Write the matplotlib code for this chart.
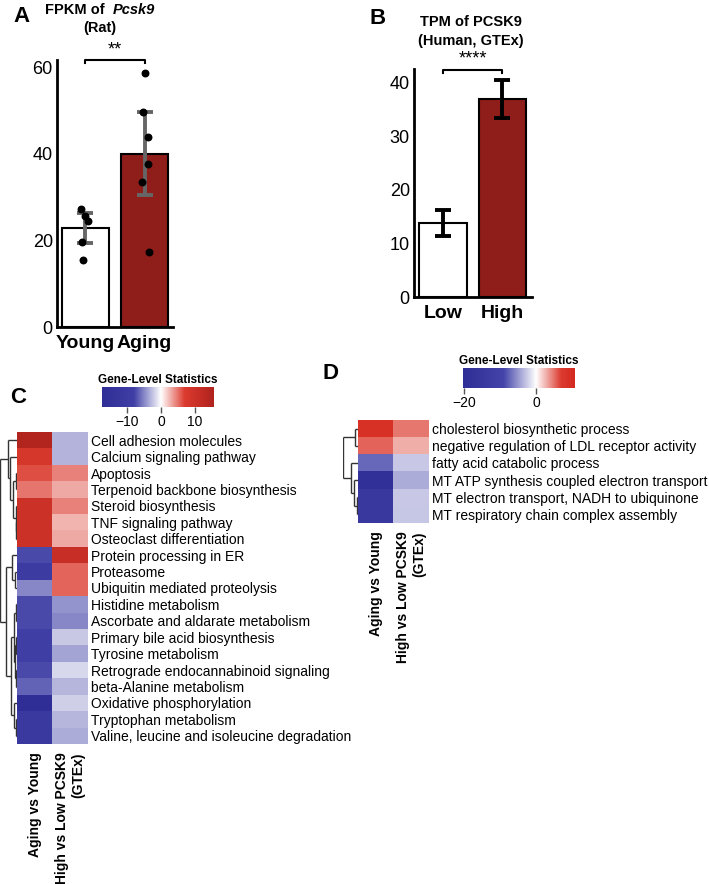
import numpy as np
import matplotlib
matplotlib.use("Agg")
import matplotlib.pyplot as plt
from matplotlib.colors import LinearSegmentedColormap

plt.rcParams['font.family'] = ['Liberation Sans', 'DejaVu Sans']

# ---- data ----
# A: FPKM of Pcsk9 (rat)
a_groups = ["Young", "Aging"]
a_means = [22.8, 40.0]
a_err = [3.5, 9.5]
a_young_pts = [27.2, 25.6, 24.5, 19.6, 15.5]
a_aging_pts = [58.6, 49.6, 43.9, 37.6, 33.5, 17.3]
a_young_jit = [-0.08, 0.0, 0.05, -0.06, -0.04]
a_aging_jit = [0.0, -0.02, 0.05, 0.05, -0.04, 0.08]

# B: TPM of PCSK9 (human GTEx)
b_groups = ["Low", "High"]
b_means = [13.8, 37.0]
b_err = [2.4, 3.6]

# C: KEGG pathways
c_terms = ["Cell adhesion molecules", "Calcium signaling pathway", "Apoptosis",
           "Terpenoid backbone biosynthesis", "Steroid biosynthesis",
           "TNF signaling pathway", "Osteoclast differentiation",
           "Protein processing in ER", "Proteasome", "Ubiquitin mediated proteolysis",
           "Histidine metabolism", "Ascorbate and aldarate metabolism",
           "Primary bile acid biosynthesis", "Tyrosine metabolism",
           "Retrograde endocannabinoid signaling", "beta-Alanine metabolism",
           "Oxidative phosphorylation", "Tryptophan metabolism",
           "Valine, leucine and isoleucine degradation"]
c_aging = [15, 8, 6.3, 4.8, 10, 10, 10, -7.5, -10, -5, -7.5, -7.5, -8, -8,
           -7.5, -6.5, -17, -11, -11]
c_gtex = [-3.2, -3.2, 4.4, 3.0, 4.4, 2.6, 3.0, 11, 5.5, 5.5, -4.5, -5, -2.2,
          -3.8, -1.6, -3.0, -2.0, -3.0, -3.4]
c_tree = [17, [9, 0, [7, 1, [3.7, [1, 2, 3], [1.5, 4, [0.8, 5, 6]]]]],
          [11, [5, 7, [2, 8, 9]],
           [6, [3, [1, 10, 11], [2, [1, 12, 13], [1, 14, 15]]], [3, 16, [1, 17, 18]]]]]

# D: GO terms
d_terms = ["cholesterol biosynthetic process",
           "negative regulation of LDL receptor activity",
           "fatty acid catabolic process",
           "MT ATP synthesis coupled electron transport",
           "MT electron transport, NADH to ubiquinone",
           "MT respiratory chain complex assembly"]
d_aging = [9, 5.5, -7.2, -19, -15, -15]
d_gtex = [4.8, 2.8, -2.6, -4, -2.6, -2.8]
d_tree = [15, [3, 0, 1], [7, 2, [4, 3, [1, 4, 5]]]]

col_labels = ["Aging vs Young", "High vs Low PCSK9\n(GTEx)"]

W, H = 709, 884
fig = plt.figure(figsize=(W / 100, H / 100), dpi=100)


def px(x0, y0, x1, y1):
    return [x0 / W, 1 - y1 / H, (x1 - x0) / W, (y1 - y0) / H]


def ftext(x, y, s, **kw):
    fig.text(x / W, 1 - y / H, s, **kw)


def make_cmap(vmin, vmax, nodes):
    pos = [(v - vmin) / (vmax - vmin) for v, c in nodes]
    return LinearSegmentedColormap.from_list("gls", list(zip(pos, [c for v, c in nodes])))


def bar_axes(ax):
    for s in ["top", "right"]:
        ax.spines[s].set_visible(False)
    for s in ["left", "bottom"]:
        ax.spines[s].set_linewidth(2)
    ax.tick_params(axis="y", length=0, labelsize=13, pad=3)
    ax.tick_params(axis="x", length=0, labelsize=14, pad=6)
    for lab in ax.get_xticklabels():
        lab.set_fontweight("bold")


# ---- A ----
axA = fig.add_axes(px(57, 60.5, 173, 327))
axA.bar([0, 1], a_means, width=0.8, color=["white", "#8f1d1a"],
        edgecolor="black", linewidth=1.5, zorder=2)
axA.errorbar([0, 1], a_means, yerr=a_err, fmt="none", ecolor="#666666",
             elinewidth=2.8, capsize=5.5, capthick=2.8, zorder=3)
axA.scatter(np.array(a_young_jit), a_young_pts, s=22, color="black", zorder=4)
axA.scatter(1 + np.array(a_aging_jit), a_aging_pts, s=22, color="black", zorder=4)
axA.set_xlim(-0.48, 1.48)
axA.set_ylim(0, 61.5)
axA.set_yticks([0, 20, 40, 60])
axA.set_xticks([0, 1])
axA.set_xticklabels(a_groups)
bar_axes(axA)
axA.plot([0, 0, 1, 1], [61.0, 61.6, 61.6, 61.0], color="black", lw=1.5, clip_on=False)
axA.text(0.5, 62.0, "**", ha="center", va="bottom", fontsize=13)
ftext(45, 10, "FPKM of ", ha="left", va="center", fontsize=10.5, fontweight="bold")
ftext(155, 10, "Pcsk9", ha="right", va="center", fontsize=10.5, fontweight="bold",
      style="italic")
ftext(100, 28, "(Rat)", ha="center", va="center", fontsize=10.5, fontweight="bold")
ftext(22, 16, "A", ha="center", va="center", fontsize=16, fontweight="bold")

# ---- B ----
axB = fig.add_axes(px(414, 69, 532, 297))
axB.bar([0, 1], b_means, width=0.8, color=["white", "#8f1d1a"],
        edgecolor="black", linewidth=1.5, zorder=2)
axB.errorbar([0, 1], b_means, yerr=b_err, fmt="none", ecolor="black",
             elinewidth=2.8, capsize=5.5, capthick=2.8, zorder=3)
axB.set_xlim(-0.487, 1.496)
axB.set_ylim(0, 42.6)
axB.set_yticks([0, 10, 20, 30, 40])
axB.set_xticks([0, 1])
axB.set_xticklabels(b_groups)
bar_axes(axB)
axB.plot([0, 0, 1, 1], [41.9, 42.5, 42.5, 41.9], color="black", lw=1.5, clip_on=False)
axB.text(0.5, 42.8, "****", ha="center", va="bottom", fontsize=13)
ftext(471, 22, "TPM of PCSK9", ha="center", va="center", fontsize=10.5, fontweight="bold")
ftext(471, 41, "(Human, GTEx)", ha="center", va="center", fontsize=10.5, fontweight="bold")
ftext(378, 18, "B", ha="center", va="center", fontsize=16, fontweight="bold")


# ---- heatmaps ----
def draw_tree(ax, node, col):
    # returns (y position, height) of node
    if not isinstance(node, list):
        return node + 0.5, 0
    h, left, right = node
    yl, hl = draw_tree(ax, left, col)
    yr, hr = draw_tree(ax, right, col)
    ax.plot([hl, h], [yl, yl], color=col, lw=1.0, solid_capstyle="butt")
    ax.plot([hr, h], [yr, yr], color=col, lw=1.0, solid_capstyle="butt")
    ax.plot([h, h], [yl, yr], color=col, lw=1.0, solid_capstyle="butt")
    return (yl + yr) / 2, h


def heatmap(box, tree_x0, terms, vals1, vals2, tree, cmap, vmin, vmax):
    x0, y0, x1, y1 = box
    ax = fig.add_axes(px(x0, y0, x1, y1))
    mat = np.column_stack([vals1, vals2])
    ax.imshow(mat, cmap=cmap, vmin=vmin, vmax=vmax, aspect="auto",
              interpolation="nearest", extent=(0, 2, len(terms), 0))
    for s in ax.spines.values():
        s.set_visible(False)
    ax.set_yticks(np.arange(len(terms)) + 0.5)
    ax.set_yticklabels(terms, fontsize=10)
    ax.yaxis.tick_right()
    ax.set_xticks([0.5, 1.5])
    ax.set_xticklabels(col_labels, rotation=90, fontsize=10, fontweight="bold",
                       multialignment="right", va="top", ha="center")
    ax.tick_params(length=0, pad=2)
    ax.tick_params(axis="x", pad=6)
    axd = fig.add_axes(px(tree_x0, y0, x0, y1))
    draw_tree(axd, tree, "#333333")
    axd.set_xlim(tree[0], 0)
    axd.set_ylim(len(terms), 0)
    axd.axis("off")


def colorbar(box, cmap, vmin, vmax, ticks):
    x0, y0, x1, y1 = box
    ax = fig.add_axes(px(x0, y0, x1, y1))
    grad = np.linspace(vmin, vmax, 256)[None, :]
    ax.imshow(grad, cmap=cmap, vmin=vmin, vmax=vmax, aspect="auto",
              extent=(vmin, vmax, 0, 1))
    ax.set_xlim(vmin, vmax)
    ax.set_yticks([])
    ax.set_xticks(ticks)
    ax.set_xticklabels([("\u2212%d" % -t) if t < 0 else "%d" % t for t in ticks])
    ax.tick_params(axis="x", length=4, width=1, color="#555555", labelsize=10, pad=2)
    for s in ax.spines.values():
        s.set_visible(False)
    ax.set_title("Gene-Level Statistics", fontsize=8.5, fontweight="bold", pad=3)


c_vmin, c_vmax = -17.4, 15.6
c_cmap = make_cmap(c_vmin, c_vmax, [(c_vmin, "#2e2e96"), (-8, "#3f3fa6"), (0, "white"),
                                    (7, "#dc3a2e"), (c_vmax, "#b0231e")])
heatmap((17, 432, 88, 744), 0, c_terms, c_aging, c_gtex, c_tree, c_cmap, c_vmin, c_vmax)
colorbar((102, 387, 214, 407), c_cmap, c_vmin, c_vmax, [-10, 0, 10])
ftext(18, 398, "C", ha="center", va="center", fontsize=16, fontweight="bold")

d_vmin, d_vmax = -20.3, 10.8
d_cmap = make_cmap(d_vmin, d_vmax, [(d_vmin, "#2e2e96"), (-9, "#4444aa"), (0, "white"),
                                    (7, "#dc3a2e"), (d_vmax, "#d42a20")])
heatmap((358, 420, 429, 523), 343, d_terms, d_aging, d_gtex, d_tree, d_cmap, d_vmin, d_vmax)
colorbar((463, 368, 575, 388), d_cmap, d_vmin, d_vmax, [-20, 0])
ftext(330, 373, "D", ha="center", va="center", fontsize=16, fontweight="bold")

fig.savefig("out.png", dpi=100)
